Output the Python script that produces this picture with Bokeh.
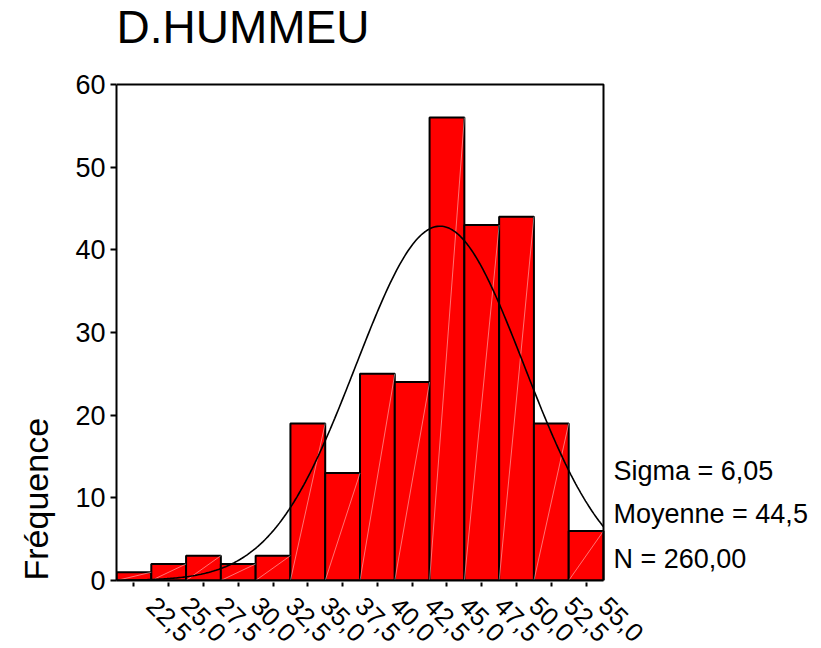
import math
import numpy as np
from bokeh.plotting import figure
from bokeh.models import Range1d, FixedTicker, ColumnDataSource, Title
from bokeh.core.properties import value
from bokeh.embed import file_html
from bokeh.resources import INLINE

# ---- data ----
bin_centers = [22.5, 25.0, 27.5, 30.0, 32.5, 35.0, 37.5, 40.0, 42.5, 45.0, 47.5, 50.0, 52.5, 55.0]
frequencies = [1, 2, 3, 2, 3, 19, 13, 25, 24, 56, 43, 44, 19, 6]
x_tick_labels = ["22,5", "25,0", "27,5", "30,0", "32,5", "35,0", "37,5", "40,0",
                 "42,5", "45,0", "47,5", "50,0", "52,5", "55,0"]
y_ticks = [0, 10, 20, 30, 40, 50, 60]
y_max = 60
bin_width = 2.5
stat_sigma = 6.05
stat_mean = 44.5
stat_n = 260
stats_lines = ["Sigma = 6,05", "Moyenne = 44,5", "N = 260,00"]
title_text = "D.HUMMEU"
y_label_text = "Fréquence"

FONT = "Liberation Sans"

# ---- layout (pixels) ----
W = 821
CHART_LEFT, CHART_W = 116, 487      # histogram box
CHART_BOTTOM, CHART_H = 580, 496
x_lo = bin_centers[0] - bin_width / 2
x_hi = bin_centers[-1] + bin_width / 2
px_x = CHART_W / (x_hi - x_lo)
px_y = CHART_H / y_max
frame_w = W - CHART_LEFT
x_end = x_lo + frame_w / px_x
y_end = CHART_BOTTOM / px_y

p = figure(frame_width=frame_w, frame_height=CHART_BOTTOM,
           x_range=Range1d(x_lo, x_end), y_range=Range1d(0, y_end),
           output_backend="svg", toolbar_location=None,
           min_border_left=CHART_LEFT, min_border_top=0, min_border_right=0,
           min_border_bottom=40)
p.grid.visible = False
p.background_fill_color = "white"
p.border_fill_color = "white"
p.outline_line_color = None

left = [c - bin_width / 2 for c in bin_centers]
right = [c + bin_width / 2 for c in bin_centers]
src = ColumnDataSource(dict(left=left, right=right, top=frequencies,
                            bottom=[0] * len(frequencies)))
p.quad(left="left", right="right", top="top", bottom="bottom", source=src,
       fill_color="#ff0000", line_color="black", line_width=2)
p.segment(x0="left", y0="bottom", x1="right", y1="top", source=src,
          line_color="white", line_alpha=0.45, line_width=1)

# fitted normal curve from the displayed statistics
xs = np.linspace(x_lo, x_hi, 300)
scale = stat_n * bin_width / (stat_sigma * math.sqrt(2 * math.pi))
ys = scale * np.exp(-0.5 * ((xs - stat_mean) / stat_sigma) ** 2)
p.line(xs, ys, line_color="black", line_width=1.6)

# top and right sides of the chart box
p.line([x_lo, x_hi, x_hi], [y_max, y_max, 0], line_color="black", line_width=2)

# x axis: tick marks at bin centres (minor ticks), labels (major, invisible ticks)
label_shift = 1.24
label_ticks = [round(c + label_shift, 2) for c in bin_centers]
p.xaxis.bounds = (x_lo, x_hi)
p.xaxis.ticker = FixedTicker(ticks=label_ticks, minor_ticks=bin_centers)
p.xaxis.major_label_overrides = {t: s for t, s in zip(label_ticks, x_tick_labels)}
p.xaxis.major_label_orientation = -math.pi / 4
p.xaxis.major_label_text_font = FONT
p.xaxis.major_label_text_font_size = "26px"
p.xaxis.major_label_text_color = "black"
p.xaxis.major_label_standoff = 13
p.xaxis.major_tick_line_color = None
p.xaxis.major_tick_in = 0
p.xaxis.major_tick_out = 8
p.xaxis.minor_tick_line_color = "black"
p.xaxis.minor_tick_line_width = 2
p.xaxis.minor_tick_in = -2
p.xaxis.minor_tick_out = 6
p.xaxis.axis_line_width = 2

# y axis
p.yaxis.bounds = (0, y_max)
p.yaxis.ticker = FixedTicker(ticks=y_ticks)
p.yaxis.major_label_text_font = FONT
p.yaxis.major_label_text_font_size = "27px"
p.yaxis.major_label_text_color = "black"
p.yaxis.major_tick_in = 0
p.yaxis.major_tick_out = 6
p.yaxis.major_tick_line_width = 2
p.yaxis.minor_tick_line_color = None
p.yaxis.axis_line_width = 2
p.yaxis.major_label_standoff = 5

# y axis title, sitting at the bottom-left as in the reference
p.add_layout(Title(text=y_label_text, align="left", vertical_align="top",
                   text_font=FONT, text_font_size="34px", text_font_style="normal",
                   text_color="black", standoff=32), "left")

# chart title
p.text(x=[x_lo], y=[y_max + 58 / px_y], text=[title_text],
       text_font=value(FONT), text_font_size="46px", text_align="left",
       text_baseline="alphabetic", text_color="black")

# statistics to the right of the chart
p.text(x=[x_hi + 10 / px_x] * 3,
       y=[(CHART_BOTTOM - b) / px_y for b in (470, 513, 558)],
       text=stats_lines, text_font=value(FONT), text_font_size="27px",
       text_align="left", text_baseline="alphabetic", text_color="black")

open("out.html", "w").write(file_html(p, INLINE))
